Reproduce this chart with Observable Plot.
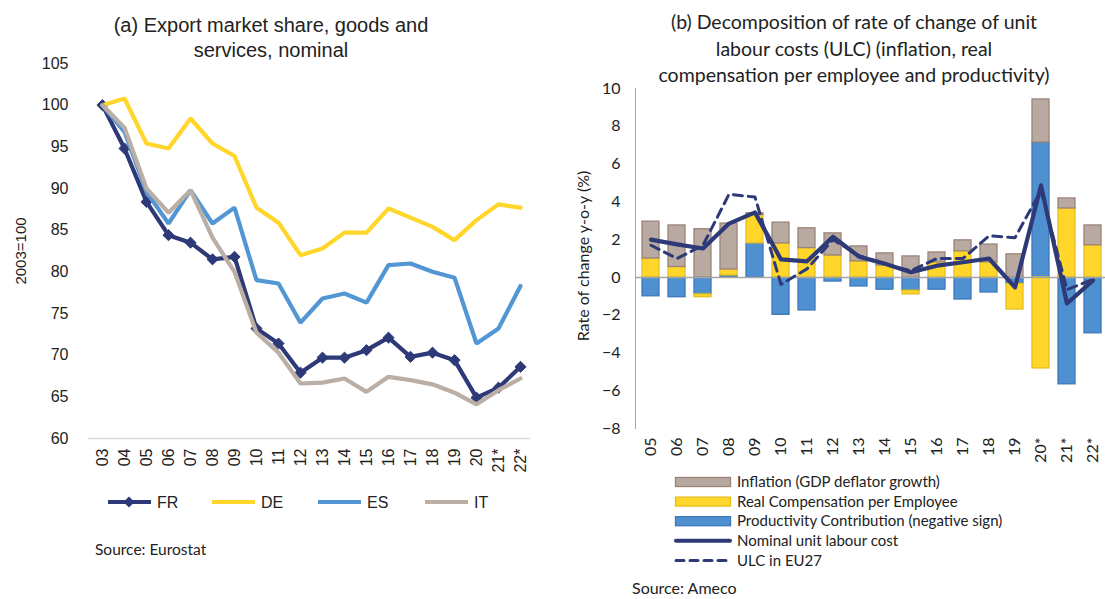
<!DOCTYPE html>
<html><head><meta charset="utf-8">
<script src="https://cdn.jsdelivr.net/npm/d3@7"></script>
<script src="https://cdn.jsdelivr.net/npm/@observablehq/plot@0.6"></script>
<style>
body{margin:0;width:1105px;height:599px;overflow:hidden;background:#fff;position:relative;font-family:"Liberation Sans",Arial,sans-serif;color:#222;}
.abs{position:absolute;}
.cal{font-family:Lato,"Open Sans",sans-serif;}
</style></head><body>
<div id="plotA" class="abs" style="left:0;top:55px;"></div>
<div id="plotB" class="abs" style="left:560px;top:80px;"></div>
<div id="titleA" class="abs" style="left:0;width:542px;top:13px;text-align:center;font-size:20px;line-height:25px;">(a) Export market share, goods and<br>services, nominal</div>
<div id="titleB" class="abs cal" style="left:604px;width:500px;top:9px;text-align:center;font-size:19.5px;line-height:26.5px;">(b) Decomposition of rate of change of unit<br>labour costs (ULC) (inflation, real<br>compensation per employee and productivity)</div>
<div class="abs" style="left:20px;top:251px;transform:translate(-50%,-50%) rotate(-90deg);font-size:15px;white-space:nowrap;">2003=100</div>
<div class="abs cal" style="left:582px;top:256px;transform:translate(-50%,-50%) rotate(-90deg);font-size:16px;white-space:nowrap;">Rate of change y-o-y (%)</div>
<div id="legendA" class="abs" style="left:0;top:490px;"></div>
<div id="legendB" class="abs" style="left:670px;top:471px;"></div>
<div class="abs cal" style="left:95px;top:540px;font-size:15.5px;">Source: Eurostat</div>
<div class="abs cal" style="left:632px;top:578px;font-size:16px;">Source: Ameco</div>
<script>
// ---------- Panel (a) data ----------
const yearsA = ["03","04","05","06","07","08","09","10","11","12","13","14","15","16","17","18","19","20","21*","22*"];
const FR = [100, 94.8, 88.4, 84.4, 83.5, 81.5, 81.8, 73.2, 71.4, 67.9, 69.7, 69.7, 70.6, 72.1, 69.8, 70.3, 69.4, 64.9, 66.1, 68.6];
const DE = [100, 100.8, 95.4, 94.8, 98.4, 95.4, 93.9, 87.7, 85.9, 82.0, 82.8, 84.7, 84.7, 87.6, 86.5, 85.4, 83.8, 86.2, 88.1, 87.7];
const ES = [100, 96.8, 89.6, 85.8, 89.8, 85.8, 87.7, 79.0, 78.6, 73.9, 76.8, 77.4, 76.3, 80.8, 81.0, 80.0, 79.3, 71.4, 73.2, 78.3];
const IT = [100, 97.3, 90.0, 87.1, 89.8, 84.1, 80.0, 72.7, 70.3, 66.6, 66.7, 67.2, 65.6, 67.4, 67.0, 66.5, 65.5, 64.1, 65.8, 67.2];
const seriesA = ["FR","DE","ES","IT"];
const ticksA = [60,65,70,75,80,85,90,95,100,105];

// ---------- Panel (b) data ----------
const yearsB = ["05","06","07","08","09","10","11","12","13","14","15","16","17","18","19","20*","21*","22*"];
const productivity = [-1.0, -1.05, -0.9, 0.1, 1.8, -1.98, -1.75, -0.22, -0.48, -0.65, -0.7, -0.65, -1.17, -0.8, -0.35, 7.14, -5.66, -2.96];
const realComp     = [1.0, 0.55, -0.15, 0.32, 1.5, 1.8, 1.55, 1.16, 0.85, 0.63, -0.2, 0.8, 1.38, 0.8, -1.35, -4.82, 3.65, 1.7];
const inflation    = [1.95, 2.2, 2.55, 2.43, 0.1, 1.1, 1.05, 1.17, 0.79, 0.64, 1.11, 0.52, 0.58, 0.94, 1.22, 2.28, 0.53, 1.05];
const nulc         = [2.0, 1.75, 1.53, 2.85, 3.44, 0.95, 0.85, 2.15, 1.1, 0.72, 0.27, 0.62, 0.8, 1.0, -0.53, 4.87, -1.38, -0.16];
const eu27         = [1.7, 1.0, 1.7, 4.4, 4.25, -0.37, 0.45, 2.0, 1.15, 0.7, 0.35, 1.0, 1.0, 2.2, 2.1, 4.6, -0.65, -0.1];
const ticksB = [-8,-6,-4,-2,0,2,4,6,8,10];
const compNames = ["Productivity Contribution (negative sign)", "Real Compensation per Employee", "Inflation (GDP deflator growth)"];

// ---------- styles ----------
const colA = {FR:"#2E3A78", DE:"#FFD629", ES:"#5296D3", IT:"#BBAEA5"};
const navy = "#2E3A78";
const fillB = {[compNames[0]]:"#4F91D0", [compNames[1]]:"#FFD629", [compNames[2]]:"#B8AAA1"};
const strokeB = {[compNames[0]]:"#3B78BC", [compNames[1]]:"#E6BE22", [compNames[2]]:"#9C8379"};

// ---------- Panel (a) ----------
const valsA = {FR, DE, ES, IT};
const tableA = seriesA.flatMap(s => yearsA.map((y, i) => ({series: s, year: y, value: valsA[s][i]})));
const lineMarks = [];
for (const s of seriesA) {
  const d = tableA.filter(r => r.series === s);
  lineMarks.push(Plot.line(d, {x: "year", y: "value", stroke: colA[s], strokeWidth: 4.2, strokeLinejoin: "miter"}));
  if (s === "FR") lineMarks.push(Plot.dot(d, {x: "year", y: "value", symbol: "diamond2", r: 5, fill: colA.FR, stroke: colA.FR, strokeWidth: 1}));
}
const plotA = Plot.plot({
  width: 560, height: 430,
  marginTop: 8, marginBottom: 47, marginLeft: 88, marginRight: 30,
  style: {fontFamily: "Liberation Sans, Arial, sans-serif", fontSize: "16px", color: "#222", background: "transparent", overflow: "visible"},
  x: {type: "point", domain: yearsA, range: [99, 523], padding: 0},
  y: {domain: [60, 105]},
  marks: [
    Plot.ruleY([60], {stroke: "#d9d9d9", strokeWidth: 1.5}),
    Plot.axisY({ticks: ticksA, tickSize: 0, tickPadding: 20, label: null, fontSize: 16}),
    Plot.axisX({tickSize: 0, tickRotate: -90, tickPadding: 10, label: null, fontSize: 16}),
    ...lineMarks
  ]
});
document.getElementById("plotA").appendChild(plotA);

// ---------- Panel (b) ----------
const compVals = [productivity, realComp, inflation];
const tableB = compNames.flatMap((c, k) => yearsB.map((y, i) => ({comp: c, year: y, value: compVals[k][i]})));
const nulcT = yearsB.map((y, i) => ({year: y, value: nulc[i]}));
const euT = yearsB.map((y, i) => ({year: y, value: eu27[i]}));
const plotB = Plot.plot({
  width: 545, height: 395,
  marginTop: 8, marginBottom: 47, marginLeft: 75, marginRight: 0,
  style: {fontFamily: "Lato, Open Sans, sans-serif", fontSize: "16px", color: "#222", background: "transparent", overflow: "visible"},
  x: {type: "band", domain: yearsB, range: [75, 548.5], paddingInner: 0.365, paddingOuter: 0.19},
  y: {domain: [-8, 10]},
  marks: [
    Plot.barY(tableB, {x: "year", y: "value", z: "comp", fill: d => fillB[d.comp], stroke: d => strokeB[d.comp], strokeWidth: 1.3}),
    Plot.ruleY([0], {stroke: "#a6a6a6", strokeWidth: 1.5}),
    Plot.frame({anchor: "left", stroke: "#a6a6a6", strokeWidth: 1}),
    Plot.axisY({ticks: ticksB, tickSize: 0, tickPadding: 15, label: null, fontSize: 16}),
    Plot.axisX({tickSize: 0, tickRotate: -90, tickPadding: 9, label: null, fontSize: 16}),
    Plot.line(euT, {x: "year", y: "value", stroke: navy, strokeWidth: 3, strokeDasharray: "9,6"}),
    Plot.line(nulcT, {x: "year", y: "value", stroke: navy, strokeWidth: 4.2})
  ]
});
document.getElementById("plotB").appendChild(plotB);

// ---------- Legends ----------
const legA = d3.select("#legendA").append("svg").attr("width", 560).attr("height", 26);
const legPos = [108, 212, 318, 425];
seriesA.forEach((s, i) => {
  const g = legA.append("g").attr("transform", `translate(${legPos[i]},12)`);
  g.append("line").attr("x1", 0).attr("x2", 43).attr("y1", 0).attr("y2", 0).attr("stroke", colA[s]).attr("stroke-width", 4.2);
  if (s === "FR") g.append("path").attr("d", d3.symbol(d3.symbolDiamond2, Math.PI * 25)()).attr("transform", "translate(21,0)").attr("fill", colA.FR);
  g.append("text").attr("x", 49).attr("y", 0).attr("dy", "0.35em").attr("font-size", 16).attr("font-family", "Liberation Sans, Arial, sans-serif").attr("fill", "#222").text(s);
});

const legB = d3.select("#legendB").append("svg").attr("width", 435).attr("height", 104);
const legItems = [
  {t: "bar", c: compNames[2]},
  {t: "bar", c: compNames[1]},
  {t: "bar", c: compNames[0]},
  {t: "line", c: "Nominal unit labour cost"},
  {t: "dash", c: "ULC in EU27"}
];
legItems.forEach((it, i) => {
  const g = legB.append("g").attr("transform", `translate(5,${11 + i * 19.6})`);
  if (it.t === "bar") {
    g.append("rect").attr("x", 0.5).attr("y", -4.5).attr("width", 55).attr("height", 9).attr("fill", fillB[it.c]).attr("stroke", strokeB[it.c]).attr("stroke-width", 1.3);
  } else {
    g.append("line").attr("x1", 1).attr("x2", 55).attr("y1", 0).attr("y2", 0).attr("stroke", navy)
      .attr("stroke-width", it.t === "line" ? 4 : 3).attr("stroke-linecap", "round").attr("stroke-dasharray", it.t === "dash" ? "8,6" : null);
  }
  g.append("text").attr("x", 62).attr("y", 0).attr("dy", "0.35em").attr("font-size", 15).attr("font-family", "Lato, Open Sans, sans-serif").attr("fill", "#222").text(it.c);
});
</script>
</body></html>
